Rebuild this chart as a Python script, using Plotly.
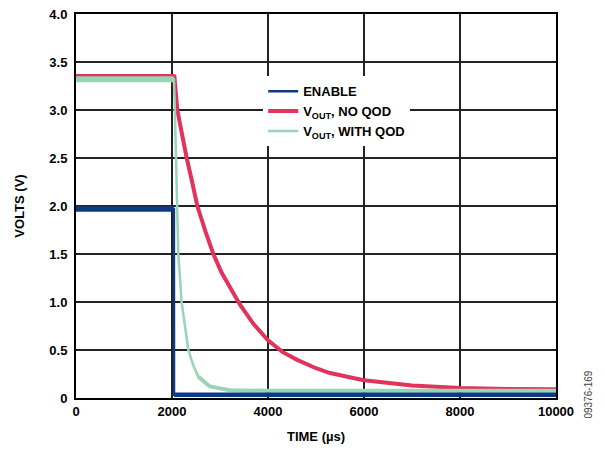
import plotly.graph_objects as go

# ENABLE trace (V)
enable_t = [0, 2040, 2042, 10000]
enable_v = [1.97, 1.97, 0.035, 0.035]

# VOUT without quick output discharge
noqod_t = [0, 2050, 2110, 2200, 2306, 2420, 2528, 2700, 2861, 3030, 3208, 3420,
           3700, 4000, 4300, 4597, 5000, 5292, 5847, 6000, 7000, 8000, 9000, 10000]
noqod_v = [3.35, 3.35, 3.0, 2.76, 2.5, 2.25, 2.0, 1.73, 1.5, 1.31, 1.146, 0.97,
           0.77, 0.60, 0.48, 0.40, 0.31, 0.26, 0.20, 0.185, 0.13, 0.105, 0.095, 0.09]

# VOUT with quick output discharge
qod_t = [0, 2040, 2060, 2097, 2131, 2200, 2340, 2450, 2550, 2790, 3200, 4000,
         6000, 8000, 10000]
qod_v = [3.32, 3.32, 3.0, 2.0, 1.5, 1.0, 0.5, 0.33, 0.22, 0.12, 0.08, 0.075,
         0.075, 0.075, 0.075]

x_ticks = [0, 2000, 4000, 6000, 8000, 10000]
y_ticks = [0, 0.5, 1.0, 1.5, 2.0, 2.5, 3.0, 3.5, 4.0]
y_labels = ["0", "0.5", "1.0", "1.5", "2.0", "2.5", "3.0", "3.5", "4.0"]

FONT = "Liberation Sans, Arial, Helvetica, sans-serif"
BLUE, RED, GREEN = "#0d3a80", "#e2335c", "#98d4b6"

fig = go.Figure()

# red first, green over it, blue on top (as in the scope capture)
fig.add_trace(go.Scatter(x=noqod_t, y=noqod_v, mode="lines",
                         name="V<sub>OUT</sub>, NO QOD", legendrank=2,
                         line=dict(color=RED, width=4)))
fig.add_trace(go.Scatter(x=noqod_t[:2], y=noqod_v[:2], mode="lines",
                         showlegend=False, hoverinfo="skip",
                         line=dict(color=RED, width=5)))

fig.add_trace(go.Scatter(x=qod_t, y=qod_v, mode="lines",
                         name="V<sub>OUT</sub>, WITH QOD", legendrank=3,
                         line=dict(color=GREEN, width=2.5)))
# noisy plateau / tail drawn thicker
fig.add_trace(go.Scatter(x=qod_t[:2], y=qod_v[:2], mode="lines",
                         showlegend=False, hoverinfo="skip",
                         line=dict(color=GREEN, width=6)))
fig.add_trace(go.Scatter(x=qod_t[8:], y=qod_v[8:], mode="lines",
                         showlegend=False, hoverinfo="skip",
                         line=dict(color=GREEN, width=4)))

fig.add_trace(go.Scatter(x=enable_t, y=enable_v, mode="lines",
                         name="ENABLE", legendrank=1,
                         line=dict(color=BLUE, width=2.5)))
fig.add_trace(go.Scatter(x=enable_t[:2], y=enable_v[:2], mode="lines",
                         showlegend=False, hoverinfo="skip",
                         line=dict(color=BLUE, width=5.5)))
fig.add_trace(go.Scatter(x=enable_t[2:], y=enable_v[2:], mode="lines",
                         showlegend=False, hoverinfo="skip",
                         line=dict(color=BLUE, width=4.5)))

axis_common = dict(
    showline=True, linecolor="black", linewidth=2, mirror=True,
    showgrid=True, gridcolor="#222222", gridwidth=1.5,
    zeroline=False, ticks="",
    tickfont=dict(family=FONT, size=13, color="black", weight="bold"),
)

fig.update_xaxes(range=[0, 10000], tickvals=x_ticks,
                 ticktext=[str(v) for v in x_ticks],
                 title=dict(text="TIME (µs)", standoff=14,
                            font=dict(family=FONT, size=13, color="black",
                                      weight="bold")),
                 **axis_common)
fig.update_yaxes(range=[0, 4.0], tickvals=y_ticks, ticktext=y_labels,
                 ticklabelstandoff=4,
                 title=dict(text="VOLTS (V)", standoff=22,
                            font=dict(family=FONT, size=13, color="black",
                                      weight="bold")),
                 **axis_common)

fig.update_layout(
    width=605, height=452,
    margin=dict(l=76, r=49, t=14, b=54, autoexpand=False),
    paper_bgcolor="white", plot_bgcolor="white",
    font=dict(family=FONT, size=13, color="black"),
    showlegend=True,
    legend=dict(x=0.39, y=0.838, xanchor="left", yanchor="top",
                bgcolor="white", borderwidth=0, itemwidth=30,
                tracegroupgap=0,
                font=dict(family=FONT, size=13, color="black", weight="bold")),
    annotations=[dict(text="09376-169", x=1.0, xref="paper", xshift=39,
                      y=0, yref="paper", yshift=-23, textangle=-90,
                      showarrow=False,
                      font=dict(family=FONT, size=10, color="#444444"))],
)

fig.write_html("out.html", config={"displayModeBar": False},
               post_script="document.body.style.margin='0';")
